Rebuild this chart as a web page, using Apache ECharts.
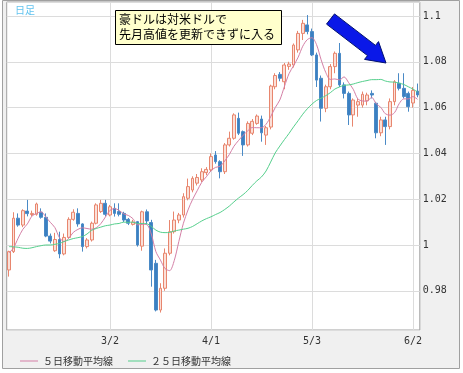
<!DOCTYPE html>
<html><head><meta charset="utf-8">
<script src="https://cdn.jsdelivr.net/npm/echarts@6/dist/echarts.min.js"></script>
<style>html,body{margin:0;padding:0;background:#fff}#c{width:463px;height:373px}</style>
</head><body><div id="c"></div>
<script>
const dates = ['1/31',
'2/1','2/2','2/3','2/4','2/7','2/8','2/9','2/10','2/11','2/14','2/15','2/16','2/17','2/18','2/21','2/22','2/23','2/24','2/25','2/28',
'3/1','3/2','3/3','3/4','3/7','3/8','3/9','3/10','3/11','3/14','3/15','3/16','3/17','3/18','3/21','3/22','3/23','3/24','3/25','3/28','3/29','3/30','3/31',
'4/1','4/4','4/5','4/6','4/7','4/8','4/11','4/12','4/13','4/14','4/15','4/18','4/19','4/20','4/21','4/22','4/25','4/26','4/27','4/28','4/29',
'5/2','5/3','5/4','5/5','5/6','5/9','5/10','5/11','5/12','5/13','5/16','5/17','5/18','5/19','5/20','5/23','5/24','5/25','5/26','5/27','5/30','5/31',
'6/1','6/2','6/3'];

const opens = [0.9891,0.9971,1.0117,1.0087,1.0148,1.0133,1.0134,1.0143,1.0121,1.0039,
0.9975,1.0024,0.9961,1.0033,1.0112,1.0138,1.0092,0.9993,1.0022,1.0095,
1.0146,1.0182,1.0131,1.0160,1.0146,1.0138,1.0112,1.0090,1.0102,0.9995,
1.0145,1.0098,0.9920,0.9716,0.9811,0.9964,1.0058,1.0109,1.0131,1.0204,
1.0240,1.0270,1.0284,1.0316,1.0328,1.0393,1.0364,1.0320,1.0437,1.0466,
1.0553,1.0495,1.0437,1.0488,1.0531,1.0550,1.0480,1.0515,1.0691,1.0745,
1.0713,1.0780,1.0786,1.0852,1.0924,1.0961,1.0932,1.0830,1.0728,1.0597,
1.0691,1.0779,1.0837,1.0699,1.0662,1.0568,1.0611,1.0611,1.0630,1.0662,
1.0619,1.0490,1.0546,1.0517,1.0626,1.0706,1.0684,1.0662,1.0620,1.0672];

const closes = [0.9971,1.0117,1.0087,1.0150,1.0137,1.0138,1.0179,1.0121,1.0039,1.0017,
1.0024,0.9961,1.0033,1.0112,1.0143,1.0092,0.9993,1.0022,1.0095,1.0175,
1.0182,1.0134,1.0167,1.0138,1.0134,1.0109,1.0095,1.0100,1.0000,1.0145,
1.0105,0.9891,0.9716,0.9811,0.9964,1.0058,1.0109,1.0131,1.0211,1.0255,
1.0291,1.0295,1.0320,1.0330,1.0386,1.0364,1.0320,1.0437,1.0466,1.0568,
1.0488,1.0437,1.0531,1.0540,1.0563,1.0490,1.0512,1.0694,1.0740,1.0728,
1.0786,1.0790,1.0873,1.0924,1.0968,1.0932,1.0830,1.0720,1.0597,1.0691,
1.0779,1.0837,1.0699,1.0662,1.0568,1.0633,1.0626,1.0658,1.0655,1.0655,
1.0490,1.0546,1.0517,1.0626,1.0713,1.0684,1.0648,1.0604,1.0675,1.0655];

const lows = [0.9862,0.9965,1.0080,1.0078,1.0125,1.0125,1.0128,1.0115,1.0034,1.0007,
0.9970,0.9942,0.9955,1.0028,1.0106,1.0080,0.9971,0.9985,1.0015,1.0090,
1.0140,1.0125,1.0125,1.0124,1.0125,1.0100,1.0087,1.0085,0.9993,0.9975,
1.0090,0.9818,0.9710,0.9705,0.9800,0.9955,1.0050,1.0095,1.0120,1.0195,
1.0230,1.0260,1.0275,1.0305,1.0320,1.0355,1.0291,1.0310,1.0430,1.0460,
1.0480,1.0389,1.0430,1.0480,1.0525,1.0451,1.0437,1.0505,1.0680,1.0715,
1.0680,1.0765,1.0775,1.0840,1.0895,1.0920,1.0825,1.0690,1.0539,1.0580,
1.0680,1.0750,1.0690,1.0640,1.0524,1.0517,1.0560,1.0600,1.0610,1.0640,
1.0466,1.0475,1.0437,1.0505,1.0610,1.0675,1.0640,1.0582,1.0600,1.0645];

const highs = [0.9975,1.0143,1.0138,1.0156,1.0197,1.0150,1.0185,1.0160,1.0138,1.0050,
1.0053,1.0058,1.0050,1.0121,1.0156,1.0160,1.0095,1.0030,1.0102,1.0182,
1.0197,1.0197,1.0175,1.0182,1.0182,1.0145,1.0118,1.0110,1.0105,1.0150,
1.0155,1.0110,0.9935,0.9833,0.9985,1.0109,1.0146,1.0140,1.0226,1.0290,
1.0300,1.0310,1.0335,1.0340,1.0400,1.0410,1.0370,1.0445,1.0495,1.0575,
1.0578,1.0500,1.0540,1.0550,1.0570,1.0565,1.0520,1.0700,1.0750,1.0755,
1.0795,1.0800,1.0880,1.0935,1.0983,1.1004,1.0945,1.0840,1.0740,1.0700,
1.0790,1.0845,1.0882,1.0710,1.0670,1.0640,1.0640,1.0670,1.0665,1.0675,
1.0625,1.0560,1.0560,1.0640,1.0720,1.0750,1.0750,1.0670,1.0690,1.0705];

const ma5 = [0.9965,0.9988,1.0030,1.0068,1.0092,1.0126,1.0138,1.0145,1.0123,1.0099,
1.0076,1.0032,1.0015,1.0029,1.0055,1.0068,1.0075,1.0072,1.0069,1.0075,
1.0093,1.0122,1.0151,1.0159,1.0151,1.0136,1.0129,1.0115,1.0088,1.0090,
1.0089,1.0048,0.9971,0.9934,0.9897,0.9888,0.9932,1.0015,1.0095,1.0153,
1.0199,1.0237,1.0274,1.0298,1.0324,1.0339,1.0344,1.0367,1.0395,1.0431,
1.0456,1.0479,1.0498,1.0513,1.0512,1.0512,1.0527,1.0560,1.0600,1.0633,
1.0692,1.0748,1.0783,1.0820,1.0868,1.0897,1.0905,1.0875,1.0809,1.0754,
1.0723,1.0725,1.0721,1.0734,1.0709,1.0680,1.0638,1.0629,1.0628,1.0645,
1.0617,1.0601,1.0573,1.0567,1.0578,1.0617,1.0638,1.0638,1.0648,1.0636];

const ma25 = [0.9993,0.9992,0.9990,0.9986,0.9985,0.9988,0.9993,0.9997,1.0000,1.0000,
1.0003,1.0007,1.0015,1.0022,1.0028,1.0032,1.0037,1.0048,1.0064,1.0072,
1.0078,1.0084,1.0087,1.0092,1.0094,1.0100,1.0099,1.0100,1.0094,1.0094,
1.0093,1.0081,1.0065,1.0056,1.0054,1.0055,1.0061,1.0065,1.0069,1.0073,
1.0081,1.0093,1.0105,1.0115,1.0123,1.0133,1.0142,1.0155,1.0170,1.0188,
1.0205,1.0220,1.0238,1.0260,1.0280,1.0297,1.0323,1.0362,1.0402,1.0432,
1.0460,1.0487,1.0516,1.0543,1.0571,1.0595,1.0615,1.0631,1.0641,1.0652,
1.0665,1.0681,1.0690,1.0697,1.0699,1.0703,1.0709,1.0714,1.0718,1.0722,
1.0722,1.0723,1.0716,1.0712,1.0711,1.0707,1.0701,1.0691,1.0681,1.0668];

const tickLabels = ['3/2','4/1','5/3','6/2'];
const yTicks = [0.98, 1, 1.02, 1.04, 1.06, 1.08, 1.1];
const legendNames = ['５日移動平均線', '２５日移動平均線'];
const noteLines = ['豪ドルは対米ドルで', '先月高値を更新できずに入る'];

const ohlc = dates.map((d, i) => [opens[i], closes[i], lows[i], highs[i]]);
const showTick = (idx, val) => tickLabels.indexOf(val) >= 0;

const chart = echarts.init(document.getElementById('c'), null, {renderer: 'canvas'});
chart.setOption({
  animation: false,
  backgroundColor: '#ffffff',
  grid: {left: 6.7, top: 2, width: 413.1, height: 328, show: true,
         backgroundColor: '#ffffff', borderColor: '#a0a0a0', borderWidth: 1},
  xAxis: {
    type: 'category', data: dates, boundaryGap: true,
    axisLine: {show: false}, axisTick: {show: false},
    axisLabel: {interval: showTick, margin: 6, fontFamily: 'DejaVu Sans Mono', fontSize: 10, color: '#333'},
    splitLine: {show: true, interval: showTick, alignWithLabel: true, lineStyle: {color: '#dcdcdc', width: 1}}
  },
  yAxis: {
    type: 'value', position: 'right', min: 0.96288, max: 1.10611, splitNumber: 7,
    axisLine: {show: false}, axisTick: {show: false},
    splitLine: {lineStyle: {color: '#dcdcdc', width: 1}},
    axisLabel: {margin: 3, fontFamily: 'DejaVu Sans Mono', fontSize: 10, color: '#333',
      showMinLabel: false, showMaxLabel: false,
      formatter: v => { for (const t of yTicks) { if (Math.abs(v - t) < 1e-6) return String(t); } return ''; }}
  },
  legend: {
    left: 15, top: 351, icon: 'rect', itemWidth: 18, itemHeight: 1, itemGap: 15,
    data: legendNames,
    textStyle: {fontFamily: 'Noto Sans CJK JP', fontSize: 10, color: '#333'}
  },
  series: [
    {type: 'candlestick', name: 'AUDUSD', data: ohlc, barWidth: '72%',
     itemStyle: {color: '#fbe0d8', color0: '#3b80c2', borderColor: '#e8866e', borderColor0: '#4a8ac6', borderWidth: 1}},
    {type: 'line', name: legendNames[0], data: ma5, symbol: 'none', smooth: 0.3,
     lineStyle: {color: '#d47fa6', width: 1}, itemStyle: {color: '#d47fa6'}, z: 3},
    {type: 'line', name: legendNames[1], data: ma25, symbol: 'none', smooth: 0.3,
     lineStyle: {color: '#55cf8c', width: 1}, itemStyle: {color: '#55cf8c'}, z: 3}
  ],
  graphic: [
    {type: 'rect', z: -10, silent: true, shape: {x: 2.5, y: 0.5, width: 457, height: 368},
     style: {fill: '#f0f0f0', stroke: '#a0a0a0', lineWidth: 1}},
    {type: 'text', z: 50, left: 15, top: 5,
     style: {text: '日足', fill: '#62c3ef', font: '10px "Noto Sans CJK JP"'}},
    {type: 'rect', z: 50, shape: {x: 115.5, y: 10.5, width: 166, height: 34},
     style: {fill: '#ffffcc', stroke: '#000000', lineWidth: 1}},
    {type: 'text', z: 51, left: 119, top: 13,
     style: {text: noteLines[0], fill: '#000', font: '12px "Noto Sans CJK JP"'}},
    {type: 'text', z: 51, left: 119, top: 28,
     style: {text: noteLines[1], fill: '#000', font: '12px "Noto Sans CJK JP"'}},
    {type: 'polygon', z: 50,
     shape: {points: [[334.5,13.9],[375.5,45.4],[378.5,41.6],[386,63],[364.5,59.4],[367.5,55.6],[326.5,24.1]]},
     style: {fill: '#0a18e8', stroke: '#00106e', lineWidth: 1}}
  ]
});
</script></body></html>
